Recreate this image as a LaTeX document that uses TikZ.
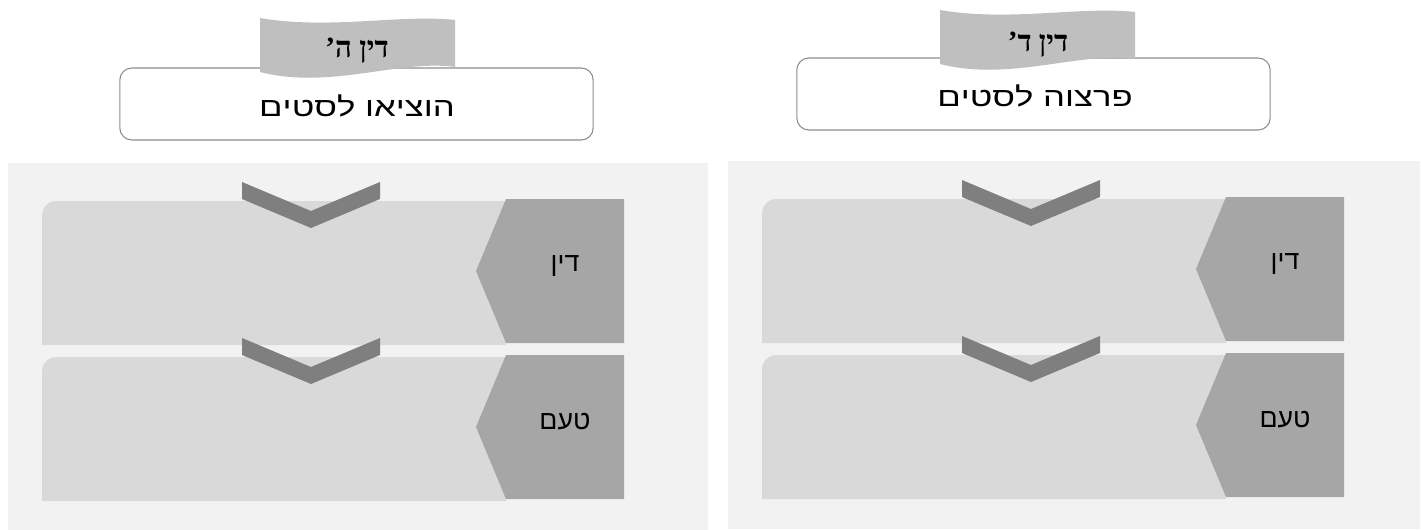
\documentclass[tikz,border=0pt]{standalone}
\usepackage{fontspec}
\setmainfont{Liberation Sans}
\newfontfamily\flagfont{Liberation Serif}
\newfontfamily\titlefont[FakeStretch=1.3]{Liberation Sans}
\TeXXeTstate=1
\usetikzlibrary{positioning}
\definecolor{panelbg}{HTML}{F2F2F2}
\definecolor{barfill}{HTML}{D9D9D9}
\definecolor{tabfill}{HTML}{A6A6A6}
\definecolor{chevfill}{HTML}{7F7F7F}
\definecolor{flagfill}{HTML}{BFBFBF}
\definecolor{boxline}{HTML}{8C8C8C}
\tikzset{
panel/.style = {fill=panelbg},
bar/.style = {fill=barfill, rounded corners=11pt},
tab/.style = {fill=tabfill},
chev/.style = {fill=chevfill},
flag/.style = {fill=flagfill},
titlebox/.style = {draw=boxline, line width=0.8pt, fill=white, rounded corners=9pt,
                   minimum width=355pt, minimum height=54pt, inner sep=0pt},
titletext/.style = {font=\titlefont\fontsize{20}{24}\selectfont},
flagtext/.style = {font=\flagfont\bfseries\fontsize{22}{26}\selectfont},
tablabel/.style = {font=\fontsize{20}{24}\selectfont}
}

\begin{document}
\begin{tikzpicture}[x=0.75pt, y=-0.75pt]
\useasboundingbox (0,0) rectangle (1421,529);

% the two panels, right one shifted
\foreach \dx/\dy/\w/\p in {0/0/700/L, 720/-2/692/R}{
  \begin{scope}[shift={(\dx,\dy)}]
    \fill[panel] (8,163) rectangle (8+\w,531);
    % rows
    \foreach \yy/\n in {0/din, 156/taam}{
      \fill[bar] (506,201+\yy) -- (42,201+\yy) [sharp corners] -- (42,345+\yy) -- (506,345+\yy) -- cycle;
      \fill[tab] (506,199+\yy) -- (624,199+\yy) -- (624,343+\yy) -- (506,343+\yy) -- (476,271+\yy) -- cycle;
      \fill[chev] (242,182+\yy) -- (311,211+\yy) -- (380,182+\yy) -- (380,199+\yy)
                  -- (311,228+\yy) -- (242,199+\yy) -- cycle;
    }
    \node[tablabel] (din\p) at (565,266) {\beginR דין\endR};
    \node[tablabel] (taam\p) at (565,422) {\beginR טעם\endR};
  \end{scope}
}

% titles
\node[titlebox] (boxL) at (356.5,104) {};
\node[titletext] (titleL) at (357,106) {\beginR הוציאו לסטים\endR};
\fill[flag] (260,18) .. controls (330,30) and (400,14) .. (455,20)
            -- (455,67) .. controls (400,59) and (330,90) .. (260,72) -- cycle;
\node[flagtext] (flagL) at (357,51) {\beginR דין ה’\endR};

\node[titlebox] (boxR) at (1033.5,94) {};
\node[titletext] (titleR) at (1035,96) {\beginR פרצוה לסטים\endR};
\fill[flag] (940,10) .. controls (1010,22) and (1080,6) .. (1135,12)
            -- (1135,59) .. controls (1080,51) and (1010,82) .. (940,64) -- cycle;
\node[flagtext] (flagR) at (1038,45) {\beginR דין ד’\endR};
\end{tikzpicture}
\end{document}
